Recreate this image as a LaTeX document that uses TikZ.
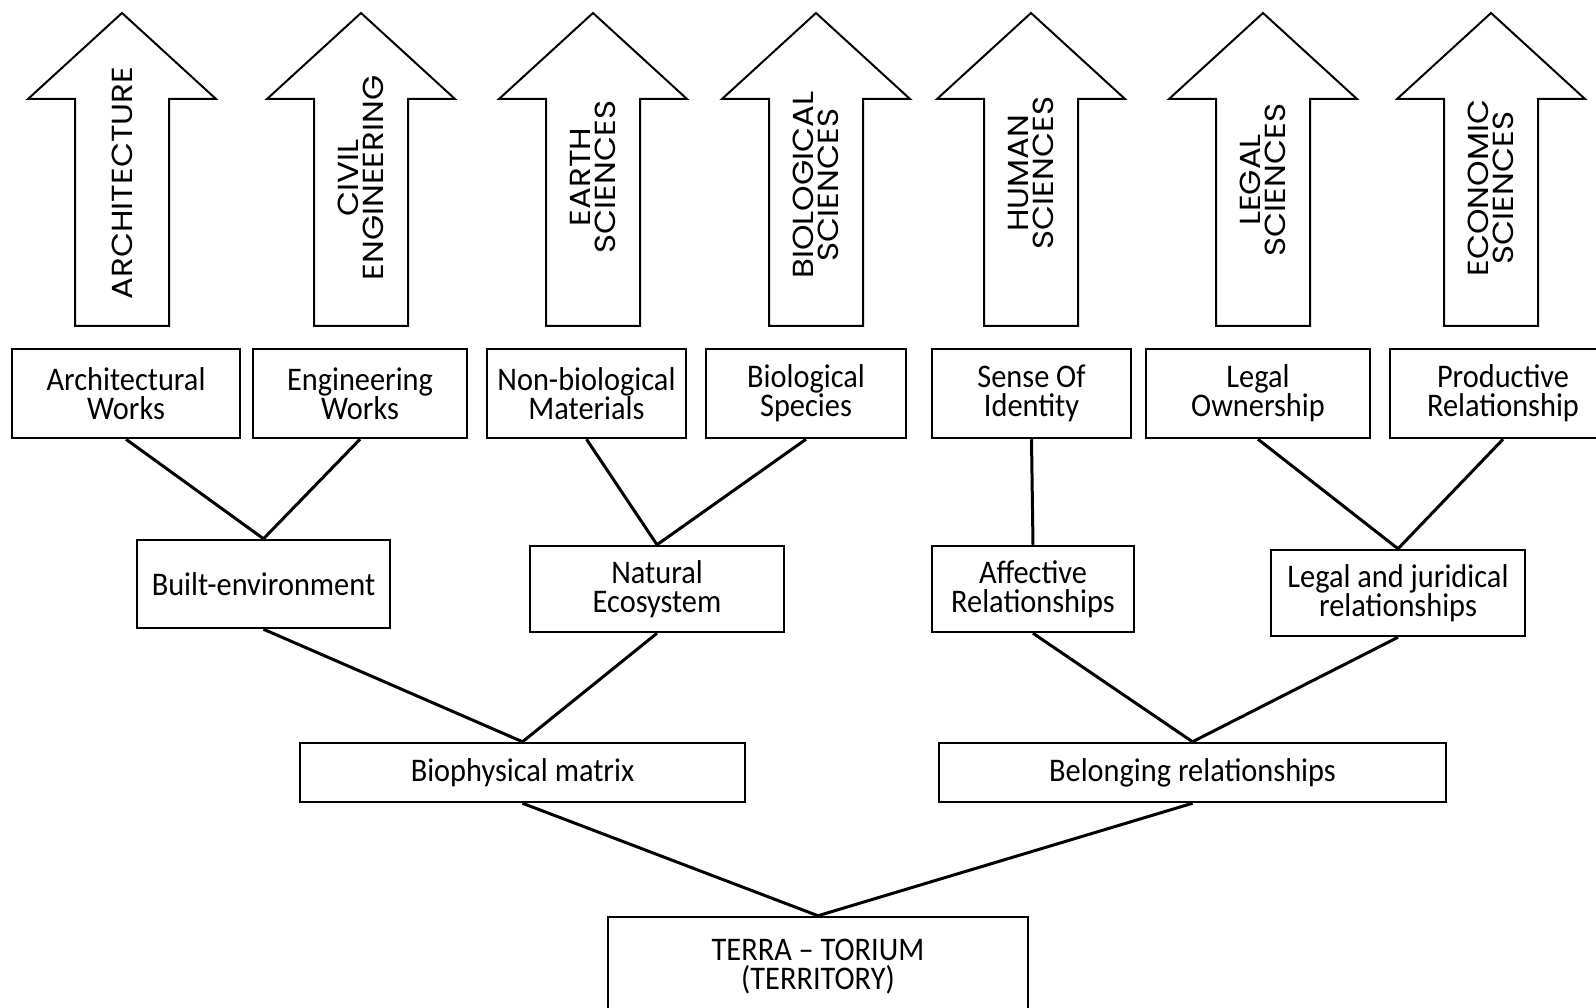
\documentclass[tikz,border=0pt]{standalone}
\usepackage{fontspec}
\setmainfont{Carlito}
\newfontfamily\boxfont[FakeStretch=0.92]{Carlito}
\newfontfamily\sciencefont[FakeStretch=1.12]{Poppins}
\usetikzlibrary{positioning}

\begin{document}
\begin{tikzpicture}[x=1pt, y=-1pt,
    box/.style={draw, line width=2.5pt, align=center, inner sep=0pt,
        font=\boxfont\fontsize{33}{29}\selectfont},
    link/.style={line width=3pt},
    arrowline/.style={line width=2pt, line join=miter},
    science/.style={rotate=90, align=center, inner sep=0pt,
        font=\sciencefont\fontsize{29}{25}\selectfont}]

    \useasboundingbox (0,0) rectangle (1596,1008);

    % the seven arrows of the sciences
    \draw[arrowline] (122,13) -- ++(94,86) -- ++(-47,0) -- ++(0,227) -- ++(-94,0) -- ++(0,-227) -- ++(-47,0) -- cycle;
    \draw[arrowline] (361,13) -- ++(94,86) -- ++(-47,0) -- ++(0,227) -- ++(-94,0) -- ++(0,-227) -- ++(-47,0) -- cycle;
    \draw[arrowline] (593,13) -- ++(94,86) -- ++(-47,0) -- ++(0,227) -- ++(-94,0) -- ++(0,-227) -- ++(-47,0) -- cycle;
    \draw[arrowline] (816,13) -- ++(94,86) -- ++(-47,0) -- ++(0,227) -- ++(-94,0) -- ++(0,-227) -- ++(-47,0) -- cycle;
    \draw[arrowline] (1031,13) -- ++(94,86) -- ++(-47,0) -- ++(0,227) -- ++(-94,0) -- ++(0,-227) -- ++(-47,0) -- cycle;
    \draw[arrowline] (1263,13) -- ++(94,86) -- ++(-47,0) -- ++(0,227) -- ++(-94,0) -- ++(0,-227) -- ++(-47,0) -- cycle;
    \draw[arrowline] (1491,13) -- ++(94,86) -- ++(-47,0) -- ++(0,227) -- ++(-94,0) -- ++(0,-227) -- ++(-47,0) -- cycle;

    \node[science] (arch) at (122,183) {ARCHITECTURE};
    \node[science] (civil) at (361,178) {CIVIL\\ENGINEERING};
    \node[science] (earth) at (593,177) {EARTH\\SCIENCES};
    \node[science] (biol) at (816,185) {BIOLOGICAL\\SCIENCES};
    \node[science] (human) at (1031,173) {HUMAN\\SCIENCES};
    \node[science] (legal) at (1263,180) {LEGAL\\SCIENCES};
    \node[science] (econ) at (1491,188) {ECONOMIC\\SCIENCES};

    % first row
    \node[box, minimum width=228pt, minimum height=89pt] (aw) at (126,393.5) {Architectural\\Works};
    \node[box, minimum width=214pt, minimum height=89pt] (ew) at (360,393.5) {Engineering\\Works};
    \node[box, minimum width=199pt, minimum height=89pt] (nb) at (586.5,393.5) {Non-biological\\Materials};
    \node[box, minimum width=200pt, minimum height=89pt] (bs) at (806,393.5) {Biological\\Species};
    \node[box, minimum width=199pt, minimum height=89pt] (si) at (1031.5,393.5) {Sense Of\\Identity};
    \node[box, minimum width=224pt, minimum height=89pt] (lo) at (1258,393.5) {Legal\\Ownership};
    \node[box, minimum width=226pt, minimum height=89pt] (pr) at (1503,393.5) {Productive\\Relationship};

    % second row
    \node[box, minimum width=253pt, minimum height=88pt] (be) at (263.5,584) {Built-environment};
    \node[box, minimum width=254pt, minimum height=86pt] (ne) at (657,589) {Natural\\Ecosystem};
    \node[box, minimum width=202pt, minimum height=86pt] (ar) at (1033,589) {Affective\\Relationships};
    \node[box, minimum width=254pt, minimum height=86pt] (lj) at (1398,593) {Legal and juridical\\relationships};

    % third row
    \node[box, minimum width=445pt, minimum height=59pt] (bm) at (522.5,772.5) {Biophysical matrix};
    \node[box, minimum width=507pt, minimum height=59pt] (br) at (1192.5,772.5) {Belonging relationships};

    % root
    \node[box, minimum width=420pt, minimum height=100pt] (tt) at (818,967) {TERRA – TORIUM\\(TERRITORY)};

    \draw[link] (aw.south)--(be.north);
    \draw[link] (ew.south)--(be.north);
    \draw[link] (nb.south)--(ne.north);
    \draw[link] (bs.south)--(ne.north);
    \draw[link] (si.south)--(ar.north);
    \draw[link] (lo.south)--(lj.north);
    \draw[link] (pr.south)--(lj.north);

    \draw[link] (be.south)--(bm.north);
    \draw[link] (ne.south)--(bm.north);
    \draw[link] (ar.south)--(br.north);
    \draw[link] (lj.south)--(br.north);

    \draw[link] (bm.south)--(tt.north);
    \draw[link] (br.south)--(tt.north);
\end{tikzpicture}
\end{document}
